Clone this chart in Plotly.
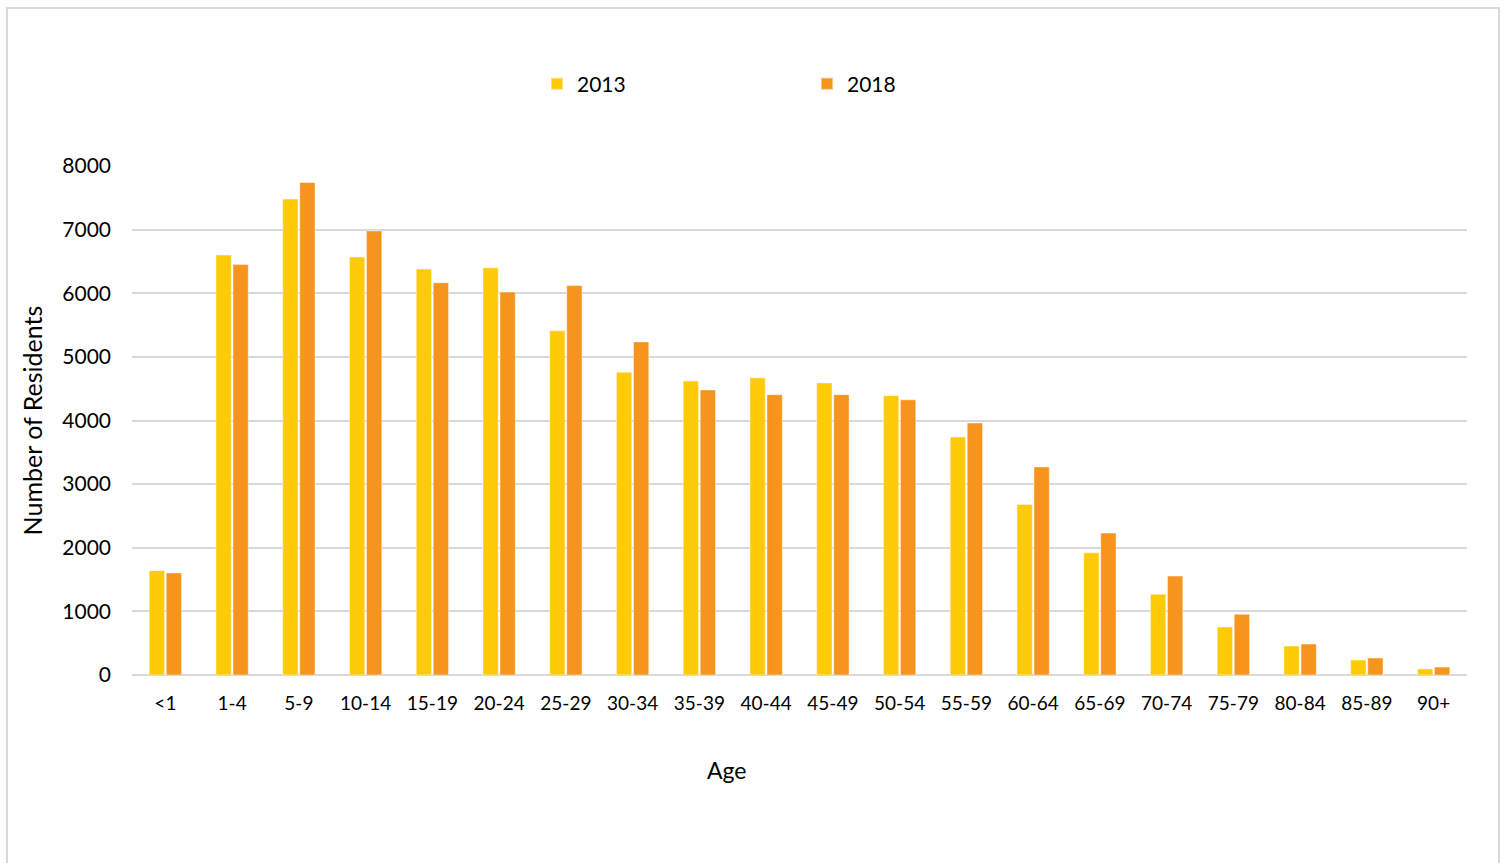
import plotly.graph_objects as go

ages = ["<1", "1-4", "5-9", "10-14", "15-19", "20-24", "25-29", "30-34", "35-39", "40-44",
        "45-49", "50-54", "55-59", "60-64", "65-69", "70-74", "75-79", "80-84", "85-89", "90+"]
residents_2013 = [1640, 6600, 7480, 6570, 6380, 6400, 5410, 4760, 4620, 4670,
                  4590, 4390, 3740, 2680, 1920, 1270, 755, 455, 235, 95]
residents_2018 = [1605, 6450, 7740, 6980, 6165, 6020, 6120, 5235, 4480, 4405,
                  4405, 4325, 3960, 3270, 2230, 1555, 955, 487, 267, 125]
y_ticks = [0, 1000, 2000, 3000, 4000, 5000, 6000, 7000, 8000]

FONT = "Lato"
L, R, T, B = 132, 38, 166, 188
PW = 1505 - L - R
PH = 863 - T - B

fig = go.Figure()
fig.add_trace(go.Bar(x=ages, y=residents_2013, name="2013",
                     marker=dict(color="#FFCA08", line=dict(color="rgba(255,255,255,0.45)", width=1))))
fig.add_trace(go.Bar(x=ages, y=residents_2018, name="2018",
                     marker=dict(color="#F7941E", line=dict(color="rgba(255,255,255,0.45)", width=1))))

fig.update_layout(
    width=1505, height=863,
    margin=dict(l=L, r=R, t=T, b=B),
    paper_bgcolor="white", plot_bgcolor="white",
    font=dict(family=FONT, size=19, color="#000000"),
    barmode="group", bargap=0.49, bargroupgap=0.10,
    showlegend=True,
    legend=dict(orientation="h", x=(537 - L) / PW, y=(863 - B - 84) / PH, xanchor="left", yanchor="middle",
                entrywidth=225, font=dict(family=FONT, size=21), itemsizing="constant"),
    xaxis=dict(type="category", showgrid=False, showline=False, ticks="",
               tickfont=dict(size=19), ticklabelstandoff=15),
    yaxis=dict(range=[0, 8000], tickvals=y_ticks, showgrid=True, gridcolor="#D9D9D9", gridwidth=2,
               zeroline=True, zerolinecolor="#D9D9D9", zerolinewidth=2, showline=False, ticks="",
               tickfont=dict(size=21), ticklabelstandoff=20,
               title=dict(text="Number of Residents", font=dict(size=25), standoff=12)),
    annotations=[dict(text="Age", xref="paper", yref="paper",
                      x=(727 - L) / PW, y=(863 - B - 770) / PH,
                      xanchor="center", yanchor="middle", showarrow=False,
                      font=dict(family=FONT, size=23))],
    shapes=[dict(type="rect", xref="paper", yref="paper",
                 x0=(7 - L) / PW, x1=(1499 - L) / PW,
                 y0=-0.5, y1=(863 - B - 8) / PH,
                 line=dict(color="#D9D9D9", width=2), fillcolor="rgba(0,0,0,0)", layer="below")],
)

fig.write_html("out.html")
